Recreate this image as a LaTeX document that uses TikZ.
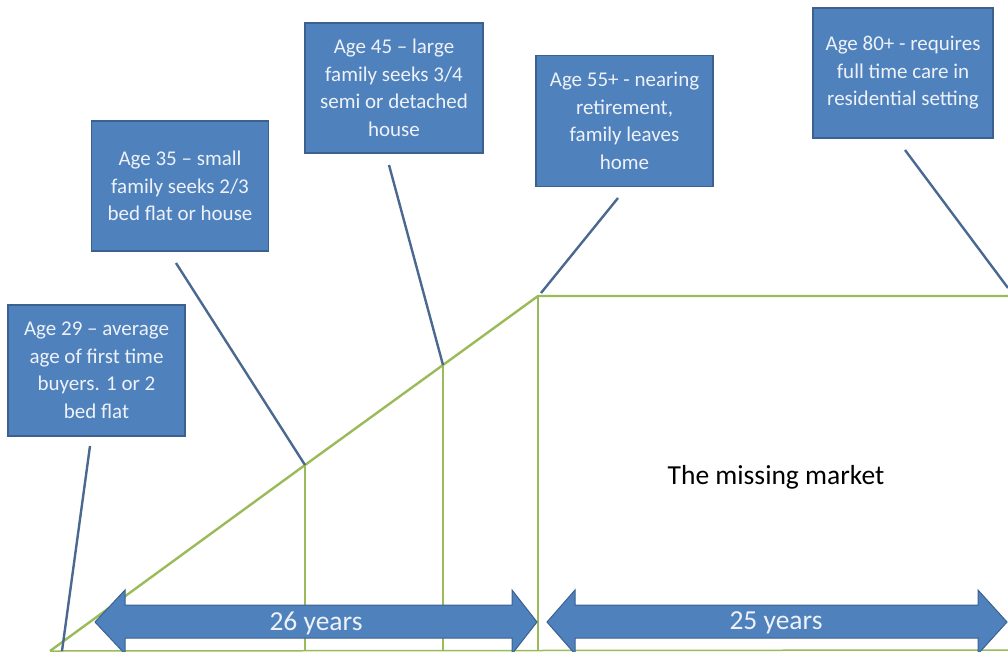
\documentclass[tikz,border=0pt]{standalone}
\usepackage{fontspec}
\setmainfont{Carlito}
\definecolor{boxblue}{HTML}{4F81BD}
\definecolor{boxedge}{HTML}{3A6190}
\definecolor{linkblue}{HTML}{4A6890}
\definecolor{lgreen}{HTML}{9BBB59}
\definecolor{paletext}{HTML}{EEF2F8}
\begin{document}
\begin{tikzpicture}[x=1pt,y=-1pt,
  agebox/.style={draw=boxedge,line width=1.2pt,fill=boxblue,text=paletext,
    minimum width=#1,align=center,inner sep=0pt,
    font=\fontsize{21}{27.5}\selectfont},
  agebox/.default=177pt,
  link/.style={draw=linkblue,line width=2.4pt},
  gline/.style={draw=lgreen,line width=2.4pt},
  barrow/.style={draw=boxedge,line width=1pt,fill=boxblue},
  arrowtext/.style={text=paletext,font=\fontsize{27.5}{32}\selectfont,inner sep=0pt}]
\useasboundingbox (0,0) rectangle (1008,651);
% boxes
\node[agebox,minimum height=131pt] (b29) at (96.5,370.5) {Age 29 -- average\\age of first time\\buyers. 1 or 2\\bed flat};
\node[agebox,minimum height=130pt] (b35) at (180,186) {Age 35 -- small\\family seeks 2/3\\bed flat or house};
\node[agebox=178pt,minimum height=130pt] (b45) at (394,88) {Age 45 -- large\\family seeks 3/4\\semi or detached\\house};
\node[agebox,minimum height=131pt] (b55) at (624.5,121) {Age 55+ - nearing\\retirement,\\family leaves\\home};
\node[agebox=180pt,minimum height=130pt] (b80) at (903,73) {Age 80+ - requires\\full time care in\\residential setting};
% green frame
\coordinate (g0) at (50,651);
\coordinate (g35) at (305,465);
\coordinate (g45) at (443,365);
\coordinate (g55) at (538,296);
\coordinate (gR) at (1010,296);
\coordinate (g35b) at (305,651);
\coordinate (g45b) at (443,651);
\coordinate (g55b) at (538,651);
\coordinate (gRb) at (1010,650);
\draw[gline] (g0) -- (g35) -- (g45) -- (g55) -- (gR);
\draw[gline] (g35) -- (g35b);
\draw[gline] (g45) -- (g45b);
\draw[gline] (g55) -- (g55b);
\draw[gline,line width=1.5pt] (g0) -- (gRb);
% connectors
\coordinate (c29) at (90,446);
\coordinate (e29) at (62,651);
\coordinate (c35) at (176,263);
\coordinate (c45) at (389,165);
\coordinate (c55) at (618,198);
\coordinate (e55) at (541,293);
\coordinate (c80) at (905,150);
\coordinate (e80) at (1008,288);
\draw[link] (c29) -- (e29);
\draw[link] (c35) -- (g35);
\draw[link] (c45) -- (g45);
\draw[link] (c55) -- (e55);
\draw[link] (c80) -- (e80);
% block arrows
\draw[barrow] (95,622) -- (125,590) -- (125,605) -- (512,605) -- (512,590) -- (537,622)
  -- (512,654) -- (512,638) -- (125,638) -- (125,654) -- cycle;
\draw[barrow] (547,622) -- (575,590) -- (575,605) -- (978,605) -- (978,590) -- (1007,622)
  -- (978,654) -- (978,638) -- (575,638) -- (575,654) -- cycle;
\node[arrowtext] (y26) at (316,623) {26 years};
\node[arrowtext] (y25) at (776,623) {25 years};
% label
\node[font=\fontsize{27.5}{32}\selectfont,inner sep=0pt] (miss) at (776,477) {The missing market};
\end{tikzpicture}
\end{document}
